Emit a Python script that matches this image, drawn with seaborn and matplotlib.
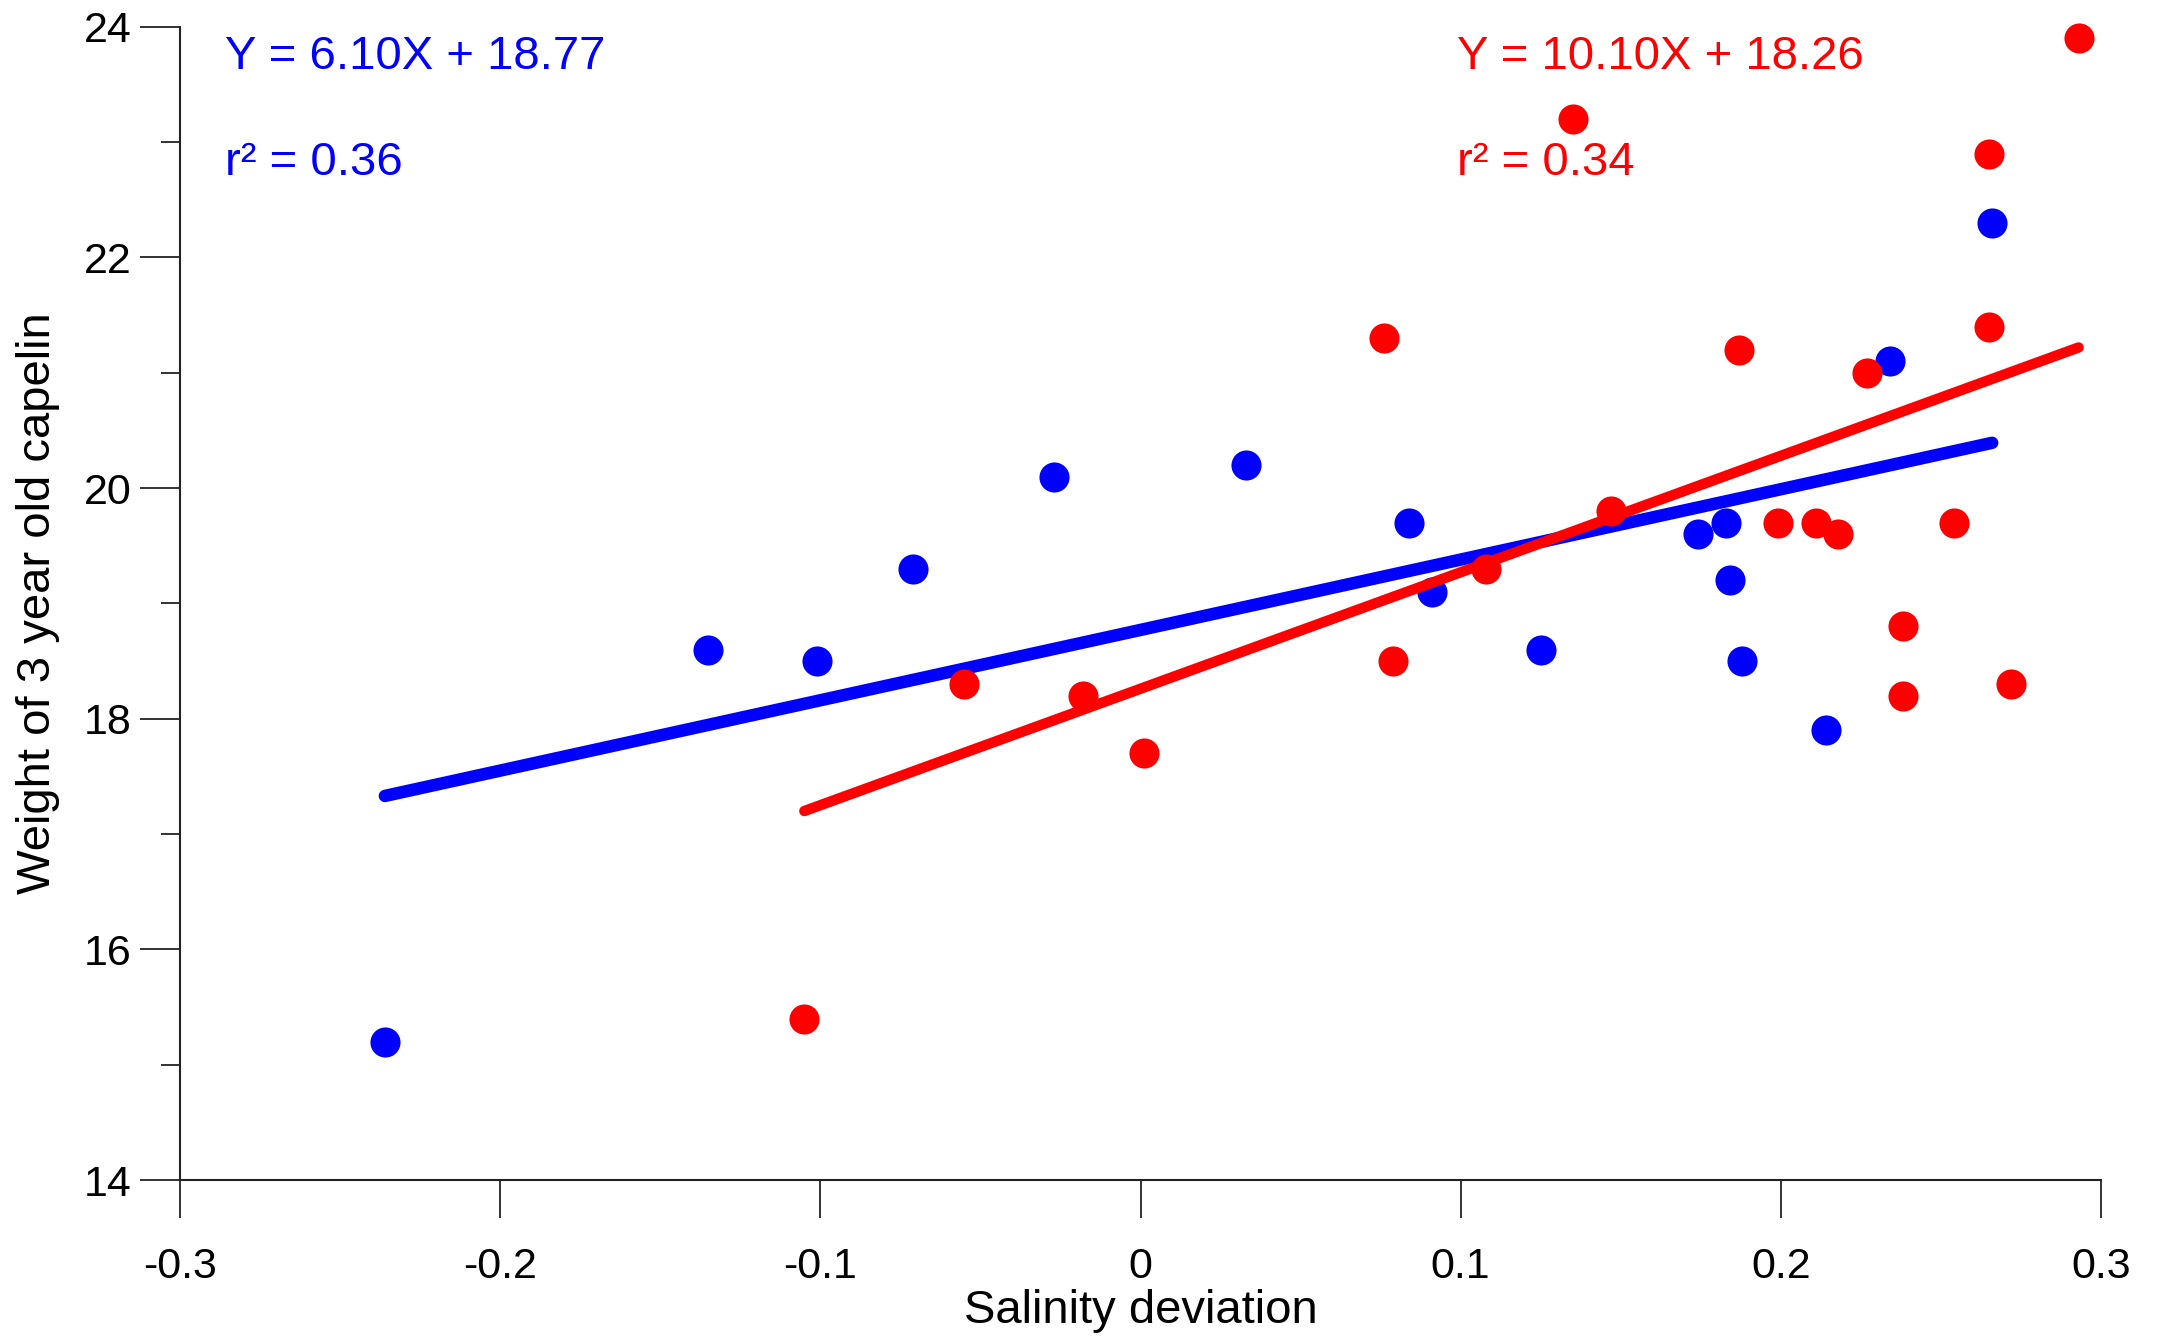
import numpy as np
import pandas as pd
import matplotlib
matplotlib.use("Agg")
import matplotlib.pyplot as plt
import seaborn as sns
from matplotlib.ticker import MultipleLocator

# salinity deviation vs weight of 3 year old capelin
blue_x = [-0.236, -0.135, -0.101, -0.071, -0.027, 0.033, 0.084, 0.091, 0.125,
          0.174, 0.183, 0.184, 0.188, 0.214, 0.234, 0.266]
blue_y = [15.2, 18.6, 18.5, 19.3, 20.1, 20.2, 19.7, 19.1, 18.6,
          19.6, 19.7, 19.2, 18.5, 17.9, 21.1, 22.3]
red_x = [-0.105, -0.055, -0.018, 0.001, 0.076, 0.079, 0.108, 0.135, 0.147,
         0.187, 0.199, 0.211, 0.218, 0.227, 0.238, 0.238, 0.254, 0.265,
         0.265, 0.272, 0.293]
red_y = [15.4, 18.3, 18.2, 17.7, 21.3, 18.5, 19.3, 23.2, 19.8,
         21.2, 19.7, 19.7, 19.6, 21.0, 18.8, 18.2, 19.7, 21.4,
         22.9, 18.3, 23.9]

blue_fit = (6.10, 18.77, 0.36)
red_fit = (10.10, 18.26, 0.34)

x_ticks = [-0.3, -0.2, -0.1, 0, 0.1, 0.2, 0.3]
x_tick_labels = ["-0.3", "-0.2", "-0.1", "0", "0.1", "0.2", "0.3"]
y_ticks = [14, 16, 18, 20, 22, 24]

BLUE = "#0000ff"
RED = "#ff0000"

sns.set_style("ticks")
plt.rcParams['font.family'] = ['Liberation Sans', 'DejaVu Sans']
plt.rcParams.update({'text.color': 'black', 'axes.labelcolor': 'black',
                     'xtick.color': 'black', 'ytick.color': 'black'})

fig, ax = plt.subplots(figsize=(21.58, 13.40), dpi=100)
fig.subplots_adjust(left=0.0834, right=0.9736, top=0.98, bottom=0.1194)

df_blue = pd.DataFrame({'x': blue_x, 'y': blue_y})
df_red = pd.DataFrame({'x': red_x, 'y': red_y})

sns.scatterplot(data=df_blue, x='x', y='y', color=BLUE, s=470, linewidth=0,
                ax=ax, zorder=2, clip_on=False)

for df, fit, col, lw, z in [(df_blue, blue_fit, BLUE, 9, 3), (df_red, red_fit, RED, 7.5, 4)]:
    xs = np.array([df['x'].min(), df['x'].max()])
    ys = fit[0] * xs + fit[1]
    sns.lineplot(x=xs, y=ys, color=col, linewidth=lw, ax=ax, zorder=z,
                 solid_capstyle='round')

sns.scatterplot(data=df_red, x='x', y='y', color=RED, s=470, linewidth=0,
                ax=ax, zorder=5, clip_on=False)

ax.text(-0.2858, 23.74, f"Y = {blue_fit[0]:.2f}X + {blue_fit[1]:.2f}", color=BLUE,
        fontsize=34, va='center', ha='left')
ax.text(-0.2858, 22.82, f"r\u00b2 = {blue_fit[2]:.2f}", color=BLUE,
        fontsize=34, va='center', ha='left')
ax.text(0.099, 23.74, f"Y = {red_fit[0]:.2f}X + {red_fit[1]:.2f}", color=RED,
        fontsize=34, va='center', ha='left')
ax.text(0.099, 22.82, f"r\u00b2 = {red_fit[2]:.2f}", color=RED,
        fontsize=34, va='center', ha='left')

ax.set_xlim(-0.3, 0.3)
ax.set_ylim(14, 24)
ax.set_xticks(x_ticks)
ax.set_xticklabels(x_tick_labels)
ax.set_yticks(y_ticks)
ax.set_yticklabels([str(v) for v in y_ticks])
ax.yaxis.set_minor_locator(MultipleLocator(1))

ax.tick_params(axis='y', which='major', length=29, width=1.3, pad=6,
               labelsize=31, color='#222222')
ax.tick_params(axis='y', which='minor', length=14, width=1.3, color='#222222')
ax.tick_params(axis='x', which='major', length=27, width=1.3, pad=21,
               labelsize=31, color='#222222')

sns.despine(ax=ax)
for sp in ['left', 'bottom']:
    ax.spines[sp].set_linewidth(1.5)
    ax.spines[sp].set_color('#222222')

ax.set_xlabel("Salinity deviation", fontsize=34)
ax.set_ylabel("Weight of 3 year old capelin", fontsize=34)
ax.xaxis.label.set_va('center')
ax.yaxis.label.set_va('center')
ax.xaxis.set_label_coords(0.5, -0.1136)
ax.yaxis.set_label_coords(-0.0739, 0.5)

fig.savefig("out.png", dpi=100)
